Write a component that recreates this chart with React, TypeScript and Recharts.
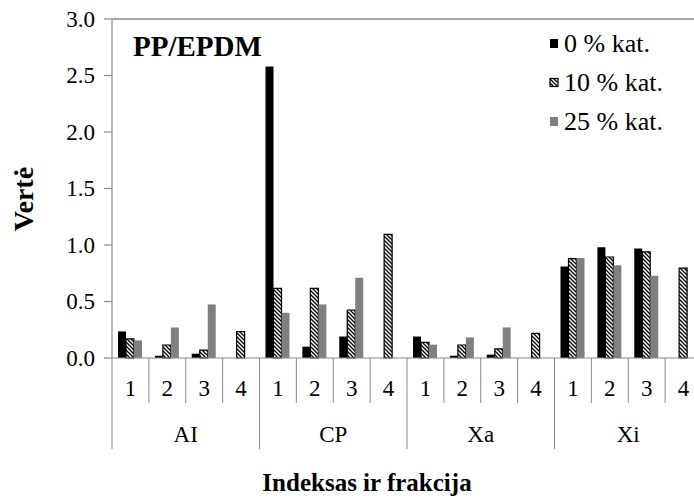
import React from 'react';
import { BarChart, Bar, XAxis, YAxis, ReferenceLine, Legend, Label } from 'recharts';

// Categories: index group × fraction
const groups = ['AI', 'CP', 'Xa', 'Xi'];
const fractions = ['1', '2', '3', '4'];

// Values per series, ordered AI1..AI4, CP1..CP4, Xa1..Xa4, Xi1..Xi4
const kat0 = [0.235, 0.02, 0.038, null, 2.58, 0.1, 0.19, null, 0.19, 0.02, 0.03, null, 0.81, 0.98, 0.97, null];
const kat10 = [0.17, 0.115, 0.07, 0.233, 0.616, 0.616, 0.425, 1.094, 0.138, 0.115, 0.08, 0.218, 0.88, 0.894, 0.94, 0.796];
const kat25 = [0.156, 0.27, 0.474, null, 0.4, 0.474, 0.71, null, 0.118, 0.182, 0.27, null, 0.885, 0.82, 0.728, null];

const seriesNames = ['0 % kat.', '10 % kat.', '25 % kat.'];
const yTicks = [0, 0.5, 1, 1.5, 2, 2.5, 3];

const data = groups.flatMap((g, gi) =>
  fractions.map((f, fi) => {
    const i = gi * fractions.length + fi;
    return { id: `${g}-${f}`, group: g, fraction: f, k0: kat0[i], k10: kat10[i], k25: kat25[i] };
  })
);

const SERIF = 'Liberation Serif, Tinos, Times New Roman, Times, DejaVu Serif, Noto Serif, serif';
const AXIS = '#898989';
const CHART_W = 702;
const CHART_H = 498;
const MARGIN = { top: 19, right: 0, bottom: 40, left: 0 };
const Y_W = 112;
const X_H = 100;
const BAND = (CHART_W - Y_W - MARGIN.left - MARGIN.right) / data.length;

const txt = { fontFamily: SERIF };

function CategoryTick(props: any) {
  const { x, y, index } = props;
  const d = data[index];
  if (!d) return null;
  const left = x - BAND / 2;
  const groupStart = index % fractions.length === 0;
  const last = index === data.length - 1;
  return (
    <g>
      <line x1={left} y1={y} x2={left} y2={y + (groupStart ? 91 : 45)} stroke={AXIS} strokeWidth={1} />
      {last && <line x1={x + BAND / 2} y1={y} x2={x + BAND / 2} y2={y + 91} stroke={AXIS} strokeWidth={1} />}
      <text x={x} y={y + 38} textAnchor="middle" style={txt} fontSize={23} fill="#000">
        {d.fraction}
      </text>
      {index % fractions.length === 1 && (
        <text x={x + BAND / 2} y={y + 84} textAnchor="middle" style={txt} fontSize={23} fill="#000">
          {d.group}
        </text>
      )}
    </g>
  );
}

function YTick(props: any) {
  const { x, y, payload } = props;
  return (
    <text x={x} y={y} dy="0.34em" textAnchor="end" style={txt} fontSize={23} fill="#000">
      {Number(payload.value).toFixed(1)}
    </text>
  );
}

function Swatch({ kind }: { kind: number }) {
  if (kind === 1) {
    return <rect x={1} y={0.5} width={8} height={8} fill="url(#hatch)" stroke="#000" strokeWidth={1.2} />;
  }
  return <rect x={1} y={0} width={8} height={9} fill={kind === 0 ? '#000' : '#808080'} />;
}

function LegendBox() {
  return (
    <svg width={150} height={120} style={{ display: 'block' }}>
      {seriesNames.map((name, i) => (
        <g key={name} transform={`translate(0, ${i * 39})`}>
          <g transform="translate(0, 19)">
            <Swatch kind={i} />
          </g>
          <text x={15} y={32} style={txt} fontSize={26} fill="#000">
            {name}
          </text>
        </g>
      ))}
    </svg>
  );
}

export default function App() {
  return (
    <div style={{ position: 'fixed', left: 0, top: 0, width: 694, height: 498, overflow: 'hidden', background: '#fff' }}>
      <svg width={0} height={0} style={{ position: 'absolute' }}>
        <defs>
          <pattern id="hatch" patternUnits="userSpaceOnUse" width={4} height={4}>
            <rect width={4} height={4} fill="#fff" />
            <path d="M-1,-1 L5,5 M-1,3 L1,5 M3,-1 L5,1" stroke="#000" strokeWidth={1.3} />
          </pattern>
        </defs>
      </svg>
      <BarChart width={CHART_W} height={CHART_H} data={data} margin={MARGIN} barSize={8} barGap={0}>
        <XAxis
          dataKey="id"
          height={X_H}
          interval={0}
          tickSize={0}
          tickMargin={0}
          tickLine={false}
          axisLine={{ stroke: AXIS, strokeWidth: 1.2 }}
          tick={<CategoryTick />}
        >
          <Label
            content={() => (
              <text x={367} y={491} textAnchor="middle" style={txt} fontSize={25} fontWeight="bold" fill="#000">
                Indeksas ir frakcija
              </text>
            )}
          />
        </XAxis>
        <YAxis
          width={Y_W}
          domain={[0, 3]}
          ticks={yTicks}
          interval={0}
          tickSize={8}
          tickMargin={9}
          axisLine={{ stroke: AXIS, strokeWidth: 1.2 }}
          tickLine={{ stroke: AXIS, strokeWidth: 1.2 }}
          tick={<YTick />}
        >
          <Label
            content={() => (
              <text
                x={33}
                y={199}
                textAnchor="middle"
                transform="rotate(-90, 33, 199)"
                style={txt}
                fontSize={28}
                fontWeight="bold"
                fill="#000"
              >
                Vertė
              </text>
            )}
          />
        </YAxis>
        <ReferenceLine y={3} stroke={AXIS} strokeWidth={1.5} />
        <Legend
          layout="vertical"
          align="center"
          verticalAlign="middle"
          content={<LegendBox />}
          wrapperStyle={{ left: 549, top: 20, width: 150, height: 120 }}
        />
        <Bar dataKey="k0" name={seriesNames[0]} fill="#000" isAnimationActive={false} />
        <Bar dataKey="k10" name={seriesNames[1]} fill="url(#hatch)" stroke="#000" strokeWidth={1.2} isAnimationActive={false} />
        <Bar dataKey="k25" name={seriesNames[2]} fill="#808080" isAnimationActive={false} />
      </BarChart>
      <svg width={320} height={70} style={{ position: 'absolute', left: 0, top: 0 }}>
        <text x={133} y={56} style={txt} fontSize={29} fontWeight="bold" fill="#000">
          PP/EPDM
        </text>
      </svg>
    </div>
  );
}
